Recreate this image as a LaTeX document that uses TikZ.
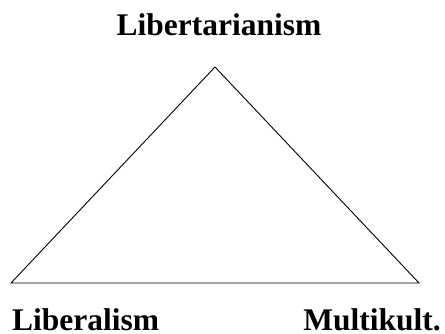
\documentclass[tikz,border=0pt]{standalone}
\usepackage{fontspec}
\setmainfont{Liberation Serif}
\usetikzlibrary{calc}
\tikzset{pole/.style={font=\fontsize{31.5}{36}\selectfont\bfseries, inner sep=0pt}}
\begin{document}
\begin{tikzpicture}[x=1pt,y=1pt]
\useasboundingbox (0,0) rectangle (445,334);
\coordinate (T) at (215,267); \coordinate (L) at (11,51); \coordinate (R) at (419,51);
\draw[line width=0.9pt] (T)--(L)--(R)--cycle;
\node[pole,anchor=base] (lib) at (219,298) {Libertarianism};
\node[pole,anchor=base west] (lbr) at (12,3) {Liberalism};
\node[pole,anchor=base east] (mul) at (441,3) {Multikult.};
\end{tikzpicture}
\end{document}
